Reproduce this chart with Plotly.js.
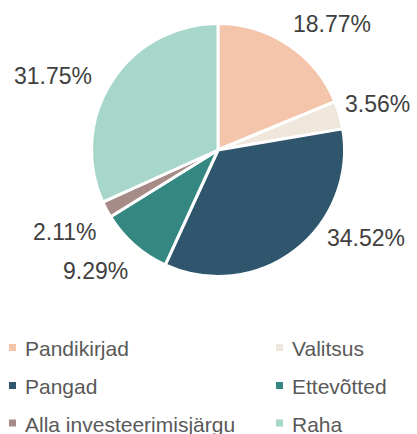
<!DOCTYPE html>
<html>
<head>
<meta charset="utf-8">
<script src="https://cdn.plot.ly/plotly-3.0.1.min.js"></script>
<style>
html,body{margin:0;padding:0;background:#fff;}
#chart{width:417px;height:434px;}
</style>
</head>
<body>
<div id="chart"></div>
<script>
// ---- data ----
const categories = ["Pandikirjad", "Valitsus", "Pangad", "Ettevõtted", "Alla investeerimisjärgu", "Raha"];
const values = [18.77, 3.56, 34.52, 9.29, 2.11, 31.75];
const colors = ["#F4C5AA", "#EFE7DB", "#2F566D", "#358882", "#A68B87", "#A7D6CA"];

// ---- layout constants (pixels) ----
const W = 417, H = 434;
const cx = 218, cy = 150, R = 126.5;
// label centres for each slice (pixel positions, style only)
const labelPos = [[332, 24], [377, 104], [366, 238], [95, 271], [65, 232], [53, 76]];
// legend grid
const legColX = [12.5, 279.5];
const legRowY = [347.5, 385.5, 423];
const legTextGap = 10.5;
const mk = 7;

const px = x => x / W;
const py = y => 1 - y / H;

const annotations = [];
const shapes = [];

values.forEach((v, i) => {
  annotations.push({
    xref: 'paper', yref: 'paper',
    x: px(labelPos[i][0]), y: py(labelPos[i][1]),
    xanchor: 'center', yanchor: 'middle',
    text: v.toFixed(2) + '%', showarrow: false,
    font: {family: 'Liberation Sans, Arial, sans-serif', size: 23, color: '#404040'}
  });
});

categories.forEach((c, i) => {
  const col = i % 2, row = Math.floor(i / 2);
  const mx = legColX[col], my = legRowY[row];
  shapes.push({
    type: 'rect', xref: 'paper', yref: 'paper',
    x0: px(mx - mk / 2), x1: px(mx + mk / 2),
    y0: py(my + mk / 2), y1: py(my - mk / 2),
    fillcolor: colors[i], line: {width: 0}
  });
  annotations.push({
    xref: 'paper', yref: 'paper',
    x: px(mx + legTextGap), y: py(my + 1),
    xanchor: 'left', yanchor: 'middle',
    text: c, showarrow: false,
    font: {family: 'Liberation Sans, Arial, sans-serif', size: 21, color: '#595959'}
  });
});

const trace = {
  type: 'pie',
  labels: categories,
  values: values,
  sort: false,
  direction: 'clockwise',
  rotation: 0,
  textinfo: 'none',
  hoverinfo: 'label+percent',
  marker: {colors: colors, line: {color: '#ffffff', width: 3}},
  domain: {x: [px(cx - R), px(cx + R)], y: [py(cy + R), py(cy - R)]},
  showlegend: false
};

const layout = {
  width: W, height: H,
  margin: {l: 0, r: 0, t: 0, b: 0},
  paper_bgcolor: '#ffffff',
  plot_bgcolor: '#ffffff',
  showlegend: false,
  annotations: annotations,
  shapes: shapes,
  font: {family: 'Liberation Sans, Arial, sans-serif'}
};

Plotly.newPlot('chart', [trace], layout, {displayModeBar: false, staticPlot: true});
</script>
</body>
</html>
